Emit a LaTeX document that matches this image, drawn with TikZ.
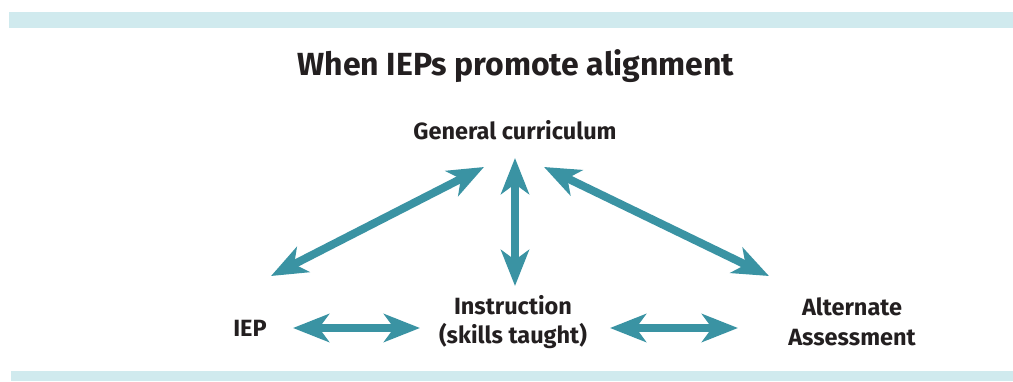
\documentclass[tikz,border=0pt]{standalone}
\usepackage{fontspec}
\setmainfont{Fira Sans}
\usetikzlibrary{arrows.meta}
\definecolor{barblue}{HTML}{D0EAEE}
\definecolor{teal}{HTML}{3A93A3}
\definecolor{ink}{HTML}{231F20}
\tikzset{
  band/.style={fill=barblue, draw=none},
  link/.style={draw=teal, line width=8pt,
    {Stealth[length=36pt,width=28pt,inset=10pt]}-{Stealth[length=36pt,width=28pt,inset=10pt]}},
  label/.style={text=ink, font=\fontsize{23.5}{29.5}\selectfont\bfseries, align=center, inner sep=0pt},
  heading/.style={text=ink, font=\fontsize{32}{38}\selectfont\bfseries, inner sep=0pt}
}
\begin{document}
\begin{tikzpicture}[x=1pt,y=-1pt]
  \useasboundingbox (0,0) rectangle (1013,381);
  % top and bottom bands
  \fill[band] (9,12) rectangle (1013,28);
  \fill[band] (11,371) rectangle (1013,381);

  \node[heading] (title) at (516,66) {When IEPs promote alignment};

  \node[label] (gc) at (515,130) {General curriculum};
  \node[label] (iep) at (250,328) {IEP};
  \node[label] (instr) at (513,322) {Instruction\\(skills taught)};
  \node[label] (alt) at (852,322) {Alternate\\Assessment};

  % arrow end points around the nodes
  \coordinate (gcL) at (484,167);
  \coordinate (gcB) at (515,158);
  \coordinate (gcR) at (544,167);
  \coordinate (iepT) at (271,276);
  \coordinate (iepR) at (293,328);
  \coordinate (instrT) at (515,286);
  \coordinate (instrL) at (420,328);
  \coordinate (instrR) at (610,328);
  \coordinate (altT) at (769,276);
  \coordinate (altL) at (738,328);

  \draw[link] (iepT) -- (gcL);
  \draw[link] (instrT) -- (gcB);
  \draw[link] (altT) -- (gcR);
  \draw[link] (iepR) -- (instrL);
  \draw[link] (instrR) -- (altL);
\end{tikzpicture}
\end{document}
